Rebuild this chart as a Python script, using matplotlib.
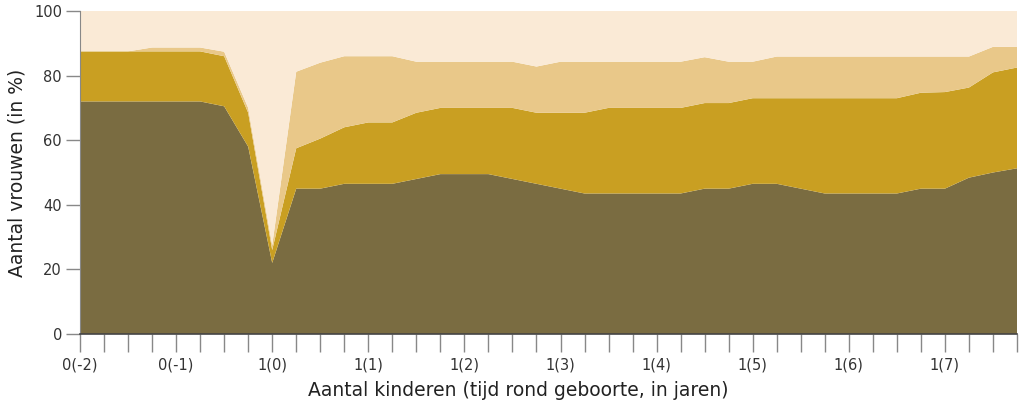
import numpy as np
import matplotlib
matplotlib.use("Agg")
import matplotlib.pyplot as plt

plt.rcParams["font.family"] = ["DejaVu Sans"]

# share of women per group (in %), one value per quarter year
geen = [72, 72, 72, 72, 72, 72, 70.5, 58, 22, 45,
        45, 46.5, 46.5, 46.5, 48, 49.5, 49.5, 49.5, 48, 46.5,
        45, 43.5, 43.5, 43.5, 43.5, 43.5, 45, 45, 46.5, 46.5,
        45, 43.5, 43.5, 43.5, 43.5, 45, 45, 48.4, 50, 51.3]
deeltijd = [15.5, 15.5, 15.5, 15.5, 15.5, 15.5, 15.5, 10.5, 4, 12.5,
            15.5, 17.5, 19, 19, 20.5, 20.5, 20.5, 20.5, 22, 22,
            23.5, 25, 26.5, 26.5, 26.5, 26.5, 26.5, 26.5, 26.5, 26.5,
            28, 29.5, 29.5, 29.5, 29.5, 29.7, 29.9, 27.9, 31, 31.2]
klein = [0, 0, 0, 1.2, 1.2, 1.2, 1.4, 1.5, 1.5, 23.7,
         23.5, 22, 20.5, 20.5, 15.8, 14.3, 14.3, 14.3, 14.3, 14.3,
         15.8, 15.8, 14.3, 14.3, 14.3, 14.3, 14.2, 12.8, 11.3, 12.9,
         12.9, 12.9, 12.9, 12.9, 12.9, 11.2, 11, 9.6, 7.9, 6.4]
overig = [12.5, 12.5, 12.5, 11.3, 11.3, 11.3, 12.6, 30, 72.5, 18.8,
          16, 14, 14, 14, 15.7, 15.7, 15.7, 15.7, 15.7, 17.2,
          15.7, 15.7, 15.7, 15.7, 15.7, 15.7, 14.3, 15.7, 15.7, 14.1,
          14.1, 14.1, 14.1, 14.1, 14.1, 14.1, 14.1, 14.1, 11.1, 11.1]
tick_labels = ["0(-2)", "0(-1)", "1(0)", "1(1)", "1(2)", "1(3)",
               "1(4)", "1(5)", "1(6)", "1(7)"]

colors = ["#7a6c41", "#c99f22", "#e9c889", "#faead6"]

x = np.arange(len(geen))

fig = plt.figure(figsize=(10.2, 4.08), dpi=100)
ax = fig.add_axes([80 / 1020, 1 - 334 / 408, 937 / 1020, 323 / 408])

ax.stackplot(x, geen, deeltijd, klein, overig, colors=colors, linewidth=0)

ax.set_xlim(0, len(geen) - 1)
ax.set_ylim(0, 100)

ax.set_xticks(x)
ax.set_xticklabels([tick_labels[i // 4] if i % 4 == 0 else "" for i in x])
ax.set_yticks([0, 20, 40, 60, 80, 100])

for s in ["top", "right"]:
    ax.spines[s].set_visible(False)
ax.spines["left"].set_color("#888888")
ax.spines["bottom"].set_color("#444444")
ax.spines["bottom"].set_linewidth(1.2)
ax.spines["bottom"].set_zorder(5)

ax.tick_params(axis="x", length=13, width=1, color="#888888",
               labelsize=10.5, labelcolor="#333333", pad=4)
ax.tick_params(axis="y", length=10, width=1, color="#888888",
               labelsize=10.5, labelcolor="#333333", pad=3)

ax.set_ylabel("Aantal vrouwen (in %)", fontsize=13.5, color="#222222", labelpad=5)
fig.text(518 / 1020, 1 - 390 / 408, "Aantal kinderen (tijd rond geboorte, in jaren)",
         ha="center", va="center", fontsize=13.5, color="#222222")

fig.savefig("out.png", dpi=100)
